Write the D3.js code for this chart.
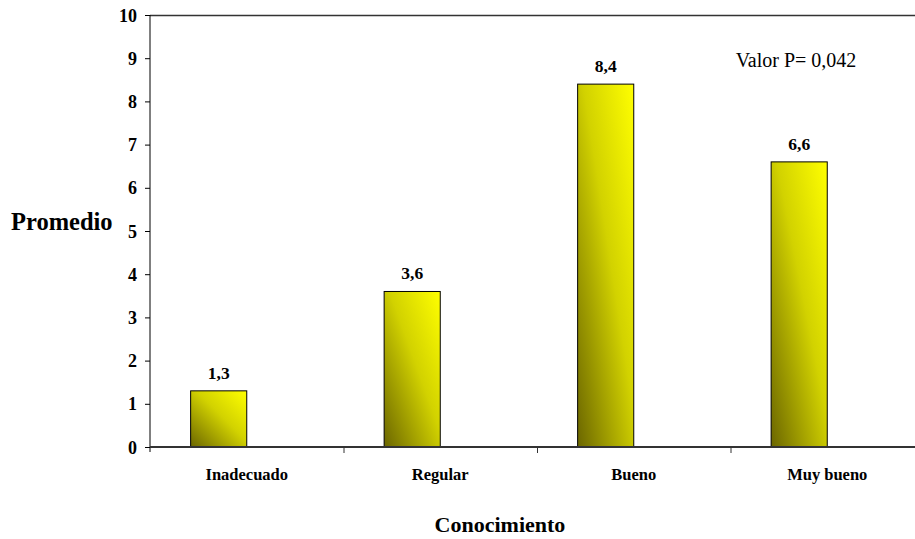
<!DOCTYPE html>
<html>
<head>
<meta charset="utf-8">
<script src="https://cdn.jsdelivr.net/npm/d3@7/dist/d3.min.js"></script>
<style>
  html, body { margin: 0; padding: 0; background: #fff; }
  svg { display: block; }
  svg text { font-family: "Liberation Serif", "Times New Roman", serif; fill: #000; }
</style>
</head>
<body>
<svg id="chart" width="915" height="539"></svg>
<script>
// Promedio por nivel de conocimiento
const categories = ["Inadecuado", "Regular", "Bueno", "Muy bueno"];
const promedio = [1.3, 3.6, 8.4, 6.6];
const yTicks = [0, 1, 2, 3, 4, 5, 6, 7, 8, 9, 10];
const seriesSlots = ["promedio", "vacía"];   // second slot of each cluster stays empty
const pValueText = "Valor P= 0,042";

const FONT = "Liberation Serif, Times New Roman, serif";
const svg = d3.select("#chart");
const plot = { left: 150, top: 15, bottom: 447, right: 924 };

const x = d3.scaleBand().domain(categories).range([plot.left, plot.right]).padding(0);
const xSlot = d3.scaleBand().domain(seriesSlots)
  .range([x.bandwidth() * 0.21, x.bandwidth() * 0.79]).padding(0);
const y = d3.scaleLinear().domain([0, 10]).range([plot.bottom, plot.top]);

// diagonal olive-to-yellow fill
const defs = svg.append("defs");
const grad = defs.append("linearGradient").attr("id", "barFill")
  .attr("x1", 0).attr("y1", 1).attr("x2", 1).attr("y2", 0);
grad.append("stop").attr("offset", "0%").attr("stop-color", "#6b6600");
grad.append("stop").attr("offset", "55%").attr("stop-color", "#d2d200");
grad.append("stop").attr("offset", "100%").attr("stop-color", "#ffff00");

// top frame line
svg.append("line")
  .attr("x1", plot.left).attr("x2", plot.right)
  .attr("y1", plot.top + 0.5).attr("y2", plot.top + 0.5)
  .attr("stroke", "#333").attr("stroke-width", 1.5);

// bars
const data = categories.map((c, i) => ({ cat: c, val: promedio[i] }));
svg.append("g").selectAll("rect").data(data).join("rect")
  .attr("x", d => x(d.cat) + xSlot("promedio"))
  .attr("y", d => y(d.val))
  .attr("width", xSlot.bandwidth())
  .attr("height", d => y(0) - y(d.val))
  .attr("fill", "url(#barFill)")
  .attr("stroke", "#000").attr("stroke-width", 1);

// value labels
svg.append("g").selectAll("text").data(data).join("text")
  .attr("x", d => x(d.cat) + xSlot("promedio") + xSlot.bandwidth() / 2)
  .attr("y", d => y(d.val) - 12)
  .attr("text-anchor", "middle")
  .attr("font-family", FONT)
  .attr("font-weight", "bold").attr("font-size", 17.5)
  .text(d => d3.format(".1f")(d.val).replace(".", ","));

// y axis
const yAxis = svg.append("g").attr("transform", `translate(${plot.left},0)`)
  .call(d3.axisLeft(y).tickValues(yTicks).tickSize(5).tickPadding(8).tickFormat(d3.format("d")));
yAxis.attr("font-family", FONT);
yAxis.select(".domain").attr("d", `M0,${plot.top}V${plot.bottom + 5}`).attr("stroke", "#000");
yAxis.selectAll("text").attr("font-family", FONT).attr("font-size", 18)
  .attr("font-weight", "bold").attr("fill", "#000").attr("dy", "0.34em");
yAxis.selectAll(".tick line").attr("stroke", "#000");

// x axis with ticks at band boundaries
const xAxis = svg.append("g").attr("transform", `translate(0,${plot.bottom})`);
xAxis.append("line").attr("x1", plot.left).attr("x2", plot.right)
  .attr("stroke", "#333").attr("stroke-width", 2);
xAxis.selectAll("line.tk").data(categories.slice(1)).join("line").attr("class", "tk")
  .attr("x1", d => x(d) + 0.5).attr("x2", d => x(d) + 0.5)
  .attr("y1", 0).attr("y2", 6).attr("stroke", "#333");
xAxis.selectAll("text").data(categories).join("text")
  .attr("x", d => x(d) + x.bandwidth() / 2)
  .attr("y", 33)
  .attr("text-anchor", "middle")
  .attr("font-family", FONT)
  .attr("font-weight", "bold").attr("font-size", 16.5)
  .text(d => d);

// axis titles
svg.append("text").attr("x", 11).attr("y", 230)
  .attr("font-family", FONT)
  .attr("font-weight", "bold").attr("font-size", 24.5).text("Promedio");
svg.append("text").attr("x", 500).attr("y", 532).attr("text-anchor", "middle")
  .attr("font-family", FONT)
  .attr("font-weight", "bold").attr("font-size", 22).text("Conocimiento");

// p-value note
svg.append("text").attr("x", 796).attr("y", 67).attr("text-anchor", "middle")
  .attr("font-family", FONT)
  .attr("font-size", 20).text(pValueText);
</script>
</body>
</html>
